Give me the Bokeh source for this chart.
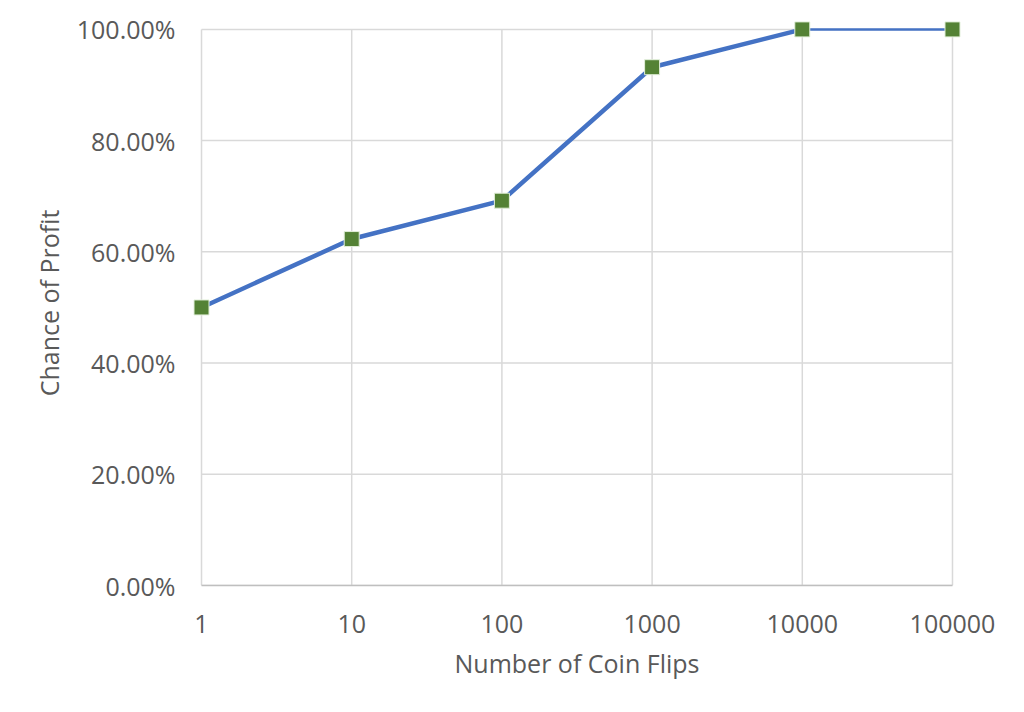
from bokeh.plotting import figure
from bokeh.models import FixedTicker, NumeralTickFormatter, Range1d
from bokeh.embed import file_html
from bokeh.resources import INLINE

flips = [1, 10, 100, 1000, 10000, 100000]
tick_labels = ["1", "10", "100", "1000", "10000", "100000"]
chance = [0.50, 0.623, 0.692, 0.932, 1.0, 1.0]
y_ticks = [0, 0.2, 0.4, 0.6, 0.8, 1.0]

FONT = "Open Sans"
GREY = "#595959"
GRID = "#D9D9D9"

pad = 10 ** 0.06
p = figure(width=1008, height=696, x_axis_type="log", output_backend="svg",
           toolbar_location=None,
           x_range=Range1d(flips[0] / pad, flips[-1] * pad), y_range=Range1d(0, 1.016),
           frame_width=769, frame_height=565,
           min_border_left=192, min_border_right=47, min_border_top=20, min_border_bottom=111)
p.outline_line_color = None
p.background_fill_color = "white"
p.border_fill_color = "white"
p.xgrid.visible = False
p.ygrid.visible = False

# gridlines limited to the data area
p.segment(x0=flips, x1=flips, y0=[y_ticks[0]] * len(flips), y1=[y_ticks[-1]] * len(flips),
          line_color=GRID, line_width=1.5)
p.segment(x0=[flips[0]] * len(y_ticks), x1=[flips[-1]] * len(y_ticks), y0=y_ticks, y1=y_ticks,
          line_color=GRID, line_width=1.5)

# x axis
p.xaxis.ticker = FixedTicker(ticks=flips)
p.xaxis.bounds = (flips[0], flips[-1])
p.xaxis.major_label_overrides = {f: l for f, l in zip(flips, tick_labels)}
p.xaxis.major_tick_line_color = None
p.xaxis.minor_tick_line_color = None
p.xaxis.axis_line_color = "#BFBFBF"
p.xaxis.axis_line_width = 1.5
p.xaxis.axis_label = "Number of Coin Flips"
p.xaxis.major_label_standoff = 23
p.xaxis.axis_label_standoff = 10

# y axis
p.yaxis.ticker = FixedTicker(ticks=y_ticks)
p.yaxis.formatter = NumeralTickFormatter(format="0.00%")
p.yaxis.major_tick_line_color = None
p.yaxis.minor_tick_line_color = None
p.yaxis.axis_line_color = None
p.yaxis.axis_label = "Chance of Profit"
p.yaxis.major_label_standoff = 11
p.yaxis.axis_label_standoff = 8

for ax in (p.xaxis, p.yaxis):
    ax.major_label_text_font = FONT
    ax.major_label_text_font_size = "25px"
    ax.major_label_text_color = GREY
    ax.axis_label_text_font = FONT
    ax.axis_label_text_font_size = "25px"
    ax.axis_label_text_color = GREY
    ax.axis_label_text_font_style = "normal"

p.line(flips[:5], chance[:5], line_color="#4472C4", line_width=4.5, line_join="round", line_cap="round")
p.line(flips[4:], chance[4:], line_color="#4472C4", line_width=2.5)
p.scatter(flips, chance, marker="square", size=15, fill_color="#548235",
          line_color="#E2EFDA", line_width=1)

open("out.html", "w").write(file_html(p, INLINE))
